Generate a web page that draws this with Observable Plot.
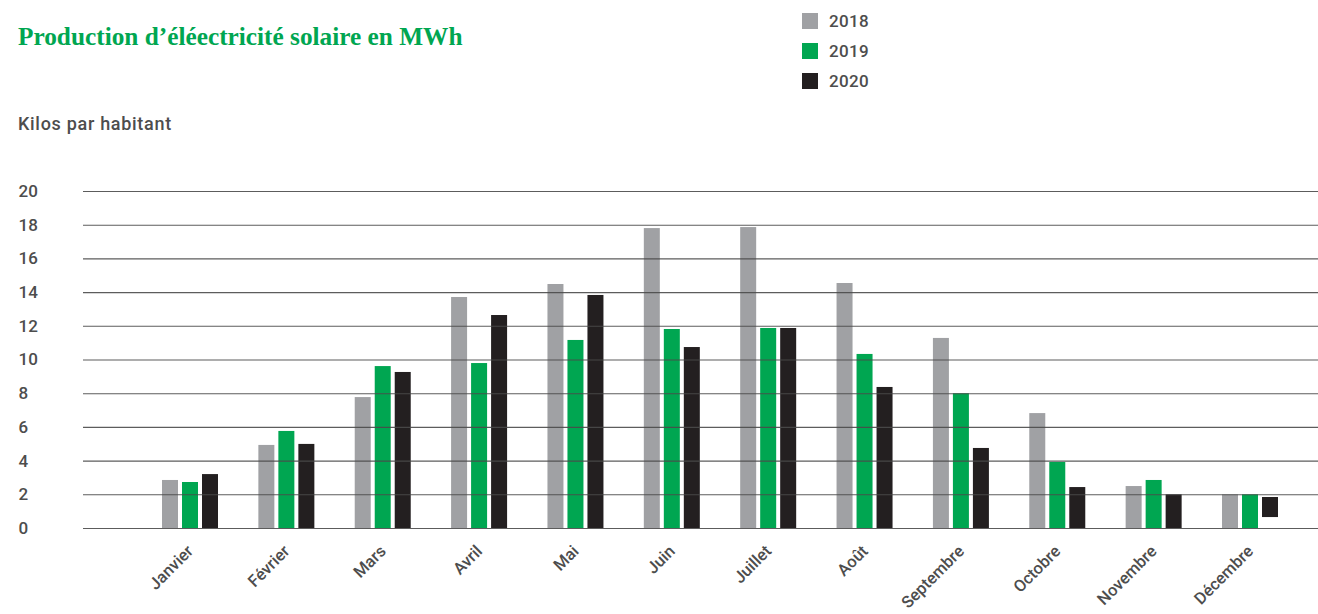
<!DOCTYPE html>
<html>
<head>
<meta charset="utf-8">
<script src="https://cdn.jsdelivr.net/npm/d3@7"></script>
<script src="https://cdn.jsdelivr.net/npm/@observablehq/plot@0.6"></script>
<style>
  html, body { margin: 0; padding: 0; background: #fff; }
  #wrap { position: relative; width: 1318px; height: 614px; overflow: hidden; font-family: Roboto, "Liberation Sans", sans-serif; }
  #header { position: relative; width: 1318px; height: 150px; }
  #title { position: absolute; left: 18px; top: 24px; font-family: "Liberation Serif", serif; font-weight: bold; font-size: 25.3px; line-height: 25px; color: #00a651; white-space: nowrap; }
  #subtitle { position: absolute; left: 18px; top: 115px; font-size: 18px; line-height: 18px; font-weight: 500; letter-spacing: 0.7px; color: #4d4d4d; white-space: nowrap; }
  #legend { position: absolute; left: 802px; top: 13px; }
  .li { display: flex; align-items: center; height: 16px; margin-bottom: 14px; font-size: 17px; font-weight: 500; letter-spacing: 0.3px; color: #4d4d4d; }
  .sw { width: 16px; height: 16px; margin-right: 11px; }
  #chart svg { display: block; }
</style>
</head>
<body>
<div id="wrap">
  <div id="header">
    <div id="title"></div>
    <div id="legend"></div>
    <div id="subtitle"></div>
  </div>
  <div id="chart"></div>
</div>
<script>
const title = "Production d’éléectricité solaire en MWh";
const subtitle = "Kilos par habitant";
const months = ["Janvier","Février","Mars","Avril","Mai","Juin","Juillet","Août","Septembre","Octobre","Novembre","Décembre"];
const years = ["2018","2019","2020"];
const colors = ["#a0a1a4","#00a651","#231f20"];
const v2018 = [2.85,4.93,7.77,13.71,14.48,17.8,17.86,14.54,11.28,6.82,2.49,2.0];
const v2019 = [2.73,5.76,9.61,9.79,11.16,11.81,11.87,10.33,8.0,3.92,2.85,2.0];
const v2020 = [3.2,4.99,9.26,12.64,13.83,10.74,11.87,8.37,4.75,2.43,2.0,1.84];
const base2020 = [0,0,0,0,0,0,0,0,0,0,0,0.65];
const yTicks = [0,2,4,6,8,10,12,14,16,18,20];

document.getElementById("title").textContent = title;
document.getElementById("subtitle").textContent = subtitle;
const leg = document.getElementById("legend");
years.forEach((y, i) => {
  const row = document.createElement("div");
  row.className = "li";
  const sw = document.createElement("div");
  sw.className = "sw";
  sw.style.background = colors[i];
  const t = document.createElement("span");
  t.textContent = y;
  row.appendChild(sw); row.appendChild(t);
  leg.appendChild(row);
});

const series = [v2018, v2019, v2020];
const bases = [months.map(() => 0), months.map(() => 0), base2020];
const rows = series.map((vals, s) => months.map((m, i) => ({month: m, year: years[s], base: bases[s][i], value: vals[i]})));

const insets = [[0, 40], [20, 20], [40, 0]];

const chart = Plot.plot({
  width: 1318,
  height: 464,
  marginTop: 41,
  marginBottom: 86,
  marginLeft: 83,
  marginRight: 0,
  style: {fontFamily: "Roboto, 'Liberation Sans', sans-serif", fontSize: "17px", color: "#4d4d4d", background: "white"},
  x: {domain: months, range: [162, 1278], paddingInner: 0.4189, paddingOuter: 0, align: 0.5, round: false, axis: null},
  y: {domain: [0, 20], axis: null},
  marks: [
    ...rows.map((r, s) => Plot.barY(r, {x: "month", y1: "base", y2: "value", fill: colors[s], insetLeft: insets[s][0], insetRight: insets[s][1]})),
    Plot.ruleY(yTicks, {stroke: "#4a4a4a", strokeWidth: 1.1, strokeOpacity: 0.9}),
    Plot.axisY({ticks: yTicks, tickSize: 0, tickPadding: 65, textAnchor: "start", fontSize: 17, fontWeight: 500, fill: "#4d4d4d", label: null}),
    Plot.axisX({tickSize: 0, tickRotate: -45, tickPadding: 20, textAnchor: "end", fontSize: 16.5, fontWeight: 500, fill: "#4d4d4d", label: null})
  ]
});
document.getElementById("chart").appendChild(chart);
</script>
</body>
</html>
